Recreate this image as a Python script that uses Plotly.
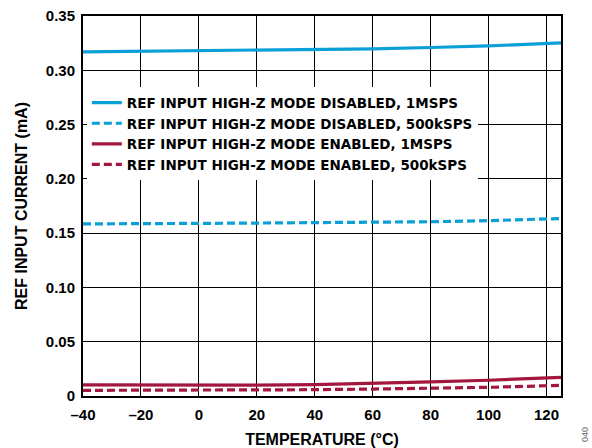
import plotly.graph_objects as go

temps = [-40, -20, 0, 20, 40, 60, 80, 100, 125]
dis_1m = [0.3170, 0.3175, 0.3180, 0.3185, 0.3190, 0.3198, 0.3210, 0.3225, 0.3252]
dis_500k = [0.1585, 0.1585, 0.1590, 0.1593, 0.1595, 0.1598, 0.1605, 0.1615, 0.1635]
en_1m = [0.0102, 0.0100, 0.0100, 0.0101, 0.0104, 0.0115, 0.0130, 0.0145, 0.0172]
en_500k = [0.0052, 0.0052, 0.0053, 0.0054, 0.0058, 0.0064, 0.0071, 0.0080, 0.0098]

names = ["REF INPUT HIGH-Z MODE DISABLED, 1MSPS",
         "REF INPUT HIGH-Z MODE DISABLED, 500kSPS",
         "REF INPUT HIGH-Z MODE ENABLED, 1MSPS",
         "REF INPUT HIGH-Z MODE ENABLED, 500kSPS"]

x_ticks = [-40, -20, 0, 20, 40, 60, 80, 100, 120]
x_ticktext = ["–40", "–20", "0", "20", "40", "60", "80", "100", "120"]
y_ticks = [0, 0.05, 0.10, 0.15, 0.20, 0.25, 0.30, 0.35]
y_ticktext = ["0", "0.05", "0.10", "0.15", "0.20", "0.25", "0.30", "0.35"]

BLUE = "#0b9fd8"
RED = "#a3173f"
FONT = "Liberation Sans"
LFONT = "DejaVu Sans"

fig = go.Figure()
series = [(dis_1m, BLUE, "solid"), (dis_500k, BLUE, "8px,4px"),
          (en_1m, RED, "solid"), (en_500k, RED, "8px,4px")]
for (vals, col, dash), nm in zip(series, names):
    fig.add_trace(go.Scatter(x=temps, y=vals, mode="lines", name=nm,
                             line=dict(color=col, width=3.2, dash=dash)))

fig.update_layout(
    template="simple_white",
    width=592, height=448,
    margin=dict(l=83, r=31, t=16, b=52),
    paper_bgcolor="white", plot_bgcolor="white",
    font=dict(family=FONT, size=14, color="black"),
    showlegend=True,
    legend=dict(x=0.008, y=0.812, xanchor="left", yanchor="top",
                bgcolor="white", borderwidth=0,
                font=dict(family=LFONT, size=13.5, color="black", weight="bold"),
                itemwidth=30, tracegroupgap=0),
)
axis_common = dict(showgrid=True, gridcolor="#000000", gridwidth=1.3,
                   showline=True, linecolor="#000000", linewidth=2, mirror=True,
                   ticks="", zeroline=False, automargin=False,
                   tickfont=dict(family=FONT, size=15, color="black", weight="bold"))
fig.update_xaxes(range=[-40, 125], tickvals=x_ticks, ticktext=x_ticktext,
                 ticklabelstandoff=4,
                 title=dict(text="TEMPERATURE (°C)", standoff=12,
                            font=dict(family=FONT, size=16, color="black", weight="bold")),
                 **axis_common)
fig.update_yaxes(range=[0, 0.35], tickvals=y_ticks, ticktext=y_ticktext,
                 ticklabelstandoff=3,
                 title=dict(text="REF INPUT CURRENT (mA)", standoff=14,
                            font=dict(family=FONT, size=16, color="black", weight="bold")),
                 **axis_common)

fig.add_annotation(text="040", xref="paper", yref="paper", x=1.05, y=-0.1,
                   xanchor="center", yanchor="middle", showarrow=False,
                   textangle=-90, font=dict(family=FONT, size=9, color="#666666"))

fig.write_html("out.html", config={"displayModeBar": False},
               post_script="document.body.style.margin='0';document.body.style.padding='0';")
